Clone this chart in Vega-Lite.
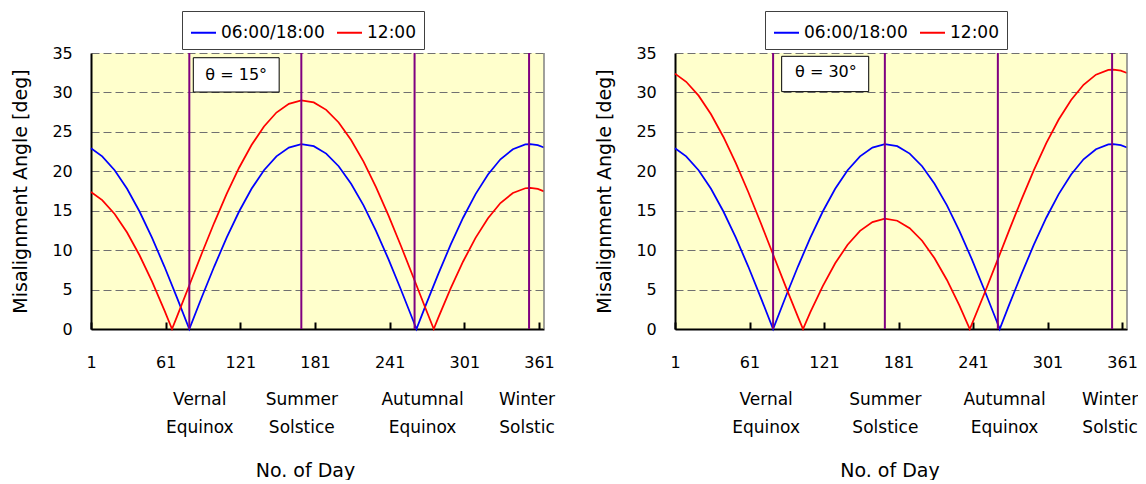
{
  "$schema": "https://vega.github.io/schema/vega-lite/v6.json",
  "padding": {"left": 11, "top": 10, "right": 0, "bottom": 0},
  "background": "white",
  "config": {"font": "DejaVu Sans", "view": {"fill": "#FFFFCC", "stroke": null}},
  "datasets": {
    "events": [
      {"day": 80, "event": "Vernal Equinox"},
      {"day": 170, "event": "Summer Solstice"},
      {"day": 261, "event": "Autumnal Equinox"},
      {"day": 353, "event": "Winter Solstic"}
    ],
    "curves": [
      {"theta":15,"time":"06:00/18:00","day":1,"angle":22.93},{"theta":15,"time":"06:00/18:00","day":10,"angle":21.90},{"theta":15,"time":"06:00/18:00","day":20,"angle":20.14},{"theta":15,"time":"06:00/18:00","day":30,"angle":17.78},{"theta":15,"time":"06:00/18:00","day":40,"angle":14.90},{"theta":15,"time":"06:00/18:00","day":50,"angle":11.58},{"theta":15,"time":"06:00/18:00","day":60,"angle":7.92},{"theta":15,"time":"06:00/18:00","day":70,"angle":4.02},{"theta":15,"time":"06:00/18:00","day":80,"angle":0},{"theta":15,"time":"06:00/18:00","day":90,"angle":4.02},{"theta":15,"time":"06:00/18:00","day":100,"angle":7.92},{"theta":15,"time":"06:00/18:00","day":110,"angle":11.58},{"theta":15,"time":"06:00/18:00","day":120,"angle":14.90},{"theta":15,"time":"06:00/18:00","day":130,"angle":17.78},{"theta":15,"time":"06:00/18:00","day":140,"angle":20.14},{"theta":15,"time":"06:00/18:00","day":150,"angle":21.90},{"theta":15,"time":"06:00/18:00","day":160,"angle":23.01},{"theta":15,"time":"06:00/18:00","day":170,"angle":23.44},{"theta":15,"time":"06:00/18:00","day":180,"angle":23.18},{"theta":15,"time":"06:00/18:00","day":190,"angle":22.24},{"theta":15,"time":"06:00/18:00","day":200,"angle":20.64},{"theta":15,"time":"06:00/18:00","day":210,"angle":18.42},{"theta":15,"time":"06:00/18:00","day":220,"angle":15.67},{"theta":15,"time":"06:00/18:00","day":230,"angle":12.45},{"theta":15,"time":"06:00/18:00","day":240,"angle":8.86},{"theta":15,"time":"06:00/18:00","day":250,"angle":5.01},{"theta":15,"time":"06:00/18:00","day":260,"angle":1.01},{"theta":15,"time":"06:00/18:00","day":262.5,"angle":0},{"theta":15,"time":"06:00/18:00","day":270,"angle":3.02},{"theta":15,"time":"06:00/18:00","day":280,"angle":6.96},{"theta":15,"time":"06:00/18:00","day":290,"angle":10.69},{"theta":15,"time":"06:00/18:00","day":300,"angle":14.11},{"theta":15,"time":"06:00/18:00","day":310,"angle":17.11},{"theta":15,"time":"06:00/18:00","day":320,"angle":19.60},{"theta":15,"time":"06:00/18:00","day":330,"angle":21.52},{"theta":15,"time":"06:00/18:00","day":340,"angle":22.80},{"theta":15,"time":"06:00/18:00","day":350,"angle":23.40},{"theta":15,"time":"06:00/18:00","day":354,"angle":23.45},{"theta":15,"time":"06:00/18:00","day":360,"angle":23.31},{"theta":15,"time":"06:00/18:00","day":365,"angle":23.01},
      {"theta":30,"time":"06:00/18:00","day":1,"angle":22.93},{"theta":30,"time":"06:00/18:00","day":10,"angle":21.90},{"theta":30,"time":"06:00/18:00","day":20,"angle":20.14},{"theta":30,"time":"06:00/18:00","day":30,"angle":17.78},{"theta":30,"time":"06:00/18:00","day":40,"angle":14.90},{"theta":30,"time":"06:00/18:00","day":50,"angle":11.58},{"theta":30,"time":"06:00/18:00","day":60,"angle":7.92},{"theta":30,"time":"06:00/18:00","day":70,"angle":4.02},{"theta":30,"time":"06:00/18:00","day":80,"angle":0},{"theta":30,"time":"06:00/18:00","day":90,"angle":4.02},{"theta":30,"time":"06:00/18:00","day":100,"angle":7.92},{"theta":30,"time":"06:00/18:00","day":110,"angle":11.58},{"theta":30,"time":"06:00/18:00","day":120,"angle":14.90},{"theta":30,"time":"06:00/18:00","day":130,"angle":17.78},{"theta":30,"time":"06:00/18:00","day":140,"angle":20.14},{"theta":30,"time":"06:00/18:00","day":150,"angle":21.90},{"theta":30,"time":"06:00/18:00","day":160,"angle":23.01},{"theta":30,"time":"06:00/18:00","day":170,"angle":23.44},{"theta":30,"time":"06:00/18:00","day":180,"angle":23.18},{"theta":30,"time":"06:00/18:00","day":190,"angle":22.24},{"theta":30,"time":"06:00/18:00","day":200,"angle":20.64},{"theta":30,"time":"06:00/18:00","day":210,"angle":18.42},{"theta":30,"time":"06:00/18:00","day":220,"angle":15.67},{"theta":30,"time":"06:00/18:00","day":230,"angle":12.45},{"theta":30,"time":"06:00/18:00","day":240,"angle":8.86},{"theta":30,"time":"06:00/18:00","day":250,"angle":5.01},{"theta":30,"time":"06:00/18:00","day":260,"angle":1.01},{"theta":30,"time":"06:00/18:00","day":262.5,"angle":0},{"theta":30,"time":"06:00/18:00","day":270,"angle":3.02},{"theta":30,"time":"06:00/18:00","day":280,"angle":6.96},{"theta":30,"time":"06:00/18:00","day":290,"angle":10.69},{"theta":30,"time":"06:00/18:00","day":300,"angle":14.11},{"theta":30,"time":"06:00/18:00","day":310,"angle":17.11},{"theta":30,"time":"06:00/18:00","day":320,"angle":19.60},{"theta":30,"time":"06:00/18:00","day":330,"angle":21.52},{"theta":30,"time":"06:00/18:00","day":340,"angle":22.80},{"theta":30,"time":"06:00/18:00","day":350,"angle":23.40},{"theta":30,"time":"06:00/18:00","day":354,"angle":23.45},{"theta":30,"time":"06:00/18:00","day":360,"angle":23.31},{"theta":30,"time":"06:00/18:00","day":365,"angle":23.01},
      {"theta":15,"time":"12:00","day":1,"angle":17.38},{"theta":15,"time":"12:00","day":10,"angle":16.35},{"theta":15,"time":"12:00","day":20,"angle":14.59},{"theta":15,"time":"12:00","day":30,"angle":12.23},{"theta":15,"time":"12:00","day":40,"angle":9.35},{"theta":15,"time":"12:00","day":50,"angle":6.03},{"theta":15,"time":"12:00","day":60,"angle":2.37},{"theta":15,"time":"12:00","day":66.1,"angle":0},{"theta":15,"time":"12:00","day":70,"angle":1.53},{"theta":15,"time":"12:00","day":80,"angle":5.55},{"theta":15,"time":"12:00","day":90,"angle":9.57},{"theta":15,"time":"12:00","day":100,"angle":13.47},{"theta":15,"time":"12:00","day":110,"angle":17.13},{"theta":15,"time":"12:00","day":120,"angle":20.45},{"theta":15,"time":"12:00","day":130,"angle":23.33},{"theta":15,"time":"12:00","day":140,"angle":25.69},{"theta":15,"time":"12:00","day":150,"angle":27.45},{"theta":15,"time":"12:00","day":160,"angle":28.56},{"theta":15,"time":"12:00","day":170,"angle":28.99},{"theta":15,"time":"12:00","day":180,"angle":28.73},{"theta":15,"time":"12:00","day":190,"angle":27.79},{"theta":15,"time":"12:00","day":200,"angle":26.19},{"theta":15,"time":"12:00","day":210,"angle":23.97},{"theta":15,"time":"12:00","day":220,"angle":21.22},{"theta":15,"time":"12:00","day":230,"angle":18.00},{"theta":15,"time":"12:00","day":240,"angle":14.41},{"theta":15,"time":"12:00","day":250,"angle":10.56},{"theta":15,"time":"12:00","day":260,"angle":6.56},{"theta":15,"time":"12:00","day":270,"angle":2.53},{"theta":15,"time":"12:00","day":276.4,"angle":0},{"theta":15,"time":"12:00","day":280,"angle":1.41},{"theta":15,"time":"12:00","day":290,"angle":5.14},{"theta":15,"time":"12:00","day":300,"angle":8.56},{"theta":15,"time":"12:00","day":310,"angle":11.56},{"theta":15,"time":"12:00","day":320,"angle":14.05},{"theta":15,"time":"12:00","day":330,"angle":15.97},{"theta":15,"time":"12:00","day":340,"angle":17.25},{"theta":15,"time":"12:00","day":350,"angle":17.85},{"theta":15,"time":"12:00","day":354,"angle":17.90},{"theta":15,"time":"12:00","day":360,"angle":17.76},{"theta":15,"time":"12:00","day":365,"angle":17.46},
      {"theta":30,"time":"12:00","day":1,"angle":32.38},{"theta":30,"time":"12:00","day":10,"angle":31.35},{"theta":30,"time":"12:00","day":20,"angle":29.59},{"theta":30,"time":"12:00","day":30,"angle":27.23},{"theta":30,"time":"12:00","day":40,"angle":24.35},{"theta":30,"time":"12:00","day":50,"angle":21.03},{"theta":30,"time":"12:00","day":60,"angle":17.37},{"theta":30,"time":"12:00","day":70,"angle":13.47},{"theta":30,"time":"12:00","day":80,"angle":9.45},{"theta":30,"time":"12:00","day":90,"angle":5.43},{"theta":30,"time":"12:00","day":100,"angle":1.53},{"theta":30,"time":"12:00","day":104.1,"angle":0},{"theta":30,"time":"12:00","day":110,"angle":2.13},{"theta":30,"time":"12:00","day":120,"angle":5.45},{"theta":30,"time":"12:00","day":130,"angle":8.33},{"theta":30,"time":"12:00","day":140,"angle":10.69},{"theta":30,"time":"12:00","day":150,"angle":12.45},{"theta":30,"time":"12:00","day":160,"angle":13.56},{"theta":30,"time":"12:00","day":170,"angle":13.99},{"theta":30,"time":"12:00","day":180,"angle":13.73},{"theta":30,"time":"12:00","day":190,"angle":12.79},{"theta":30,"time":"12:00","day":200,"angle":11.19},{"theta":30,"time":"12:00","day":210,"angle":8.97},{"theta":30,"time":"12:00","day":220,"angle":6.22},{"theta":30,"time":"12:00","day":230,"angle":3.00},{"theta":30,"time":"12:00","day":238.4,"angle":0},{"theta":30,"time":"12:00","day":240,"angle":0.59},{"theta":30,"time":"12:00","day":250,"angle":4.44},{"theta":30,"time":"12:00","day":260,"angle":8.44},{"theta":30,"time":"12:00","day":270,"angle":12.47},{"theta":30,"time":"12:00","day":280,"angle":16.41},{"theta":30,"time":"12:00","day":290,"angle":20.14},{"theta":30,"time":"12:00","day":300,"angle":23.56},{"theta":30,"time":"12:00","day":310,"angle":26.56},{"theta":30,"time":"12:00","day":320,"angle":29.05},{"theta":30,"time":"12:00","day":330,"angle":30.97},{"theta":30,"time":"12:00","day":340,"angle":32.25},{"theta":30,"time":"12:00","day":350,"angle":32.85},{"theta":30,"time":"12:00","day":354,"angle":32.90},{"theta":30,"time":"12:00","day":360,"angle":32.76},{"theta":30,"time":"12:00","day":365,"angle":32.46}
    ]
  },
  "bounds": "flush",
  "spacing": 131,
  "resolve": {"scale": {"x": "independent", "y": "independent", "color": "independent"}, "legend": {"color": "independent"}},
  "hconcat": [
    {
      "width": 453, "height": 276,
      "resolve": {"axis": {"x": "independent", "y": "independent"}},
      "layer": [
        {
          "data": {"name": "curves"},
          "transform": [{"filter": "datum.theta == 15"}],
          "mark": {"type": "line", "strokeWidth": 1.75},
          "encoding": {
            "x": {"field": "day", "type": "quantitative", "scale": {"domain": [1, 365], "nice": false, "zero": false},
              "axis": {"orient": "bottom", "values": [1, 61, 121, 181, 241, 301, 361], "title": null, "grid": false, "domainColor": "black", "domainWidth": 2, "ticks": true, "tickColor": "black", "tickWidth": 2, "tickSize": -7, "labelPadding": 32.4, "labelFlush": false, "labelOverlap": false, "labelFontSize": 16, "labelColor": "black"}},
            "y": {"field": "angle", "type": "quantitative", "scale": {"domain": [0, 35], "nice": false},
              "axis": {"values": [0, 5, 10, 15, 20, 25, 30, 35], "labelOverlap": false, "labelFlush": false, "title": "Misalignment Angle [deg]", "grid": true, "gridDash": [8, 4], "gridColor": "#707070", "gridWidth": 1, "domainColor": "black", "domainWidth": 2, "ticks": false, "tickSize": 0, "labelPadding": 18.7, "labelFontSize": 16, "labelColor": "black", "titleFontSize": 19, "titleFontWeight": "normal", "titleColor": "black", "titlePadding": 21}},
            "color": {"field": "time", "type": "nominal", "scale": {"domain": ["06:00/18:00", "12:00"], "range": ["#0000FF", "#FF0000"]},
              "legend": {"orient": "none", "legendX": 91, "legendY": -42, "direction": "horizontal", "title": null, "symbolType": "stroke", "symbolSize": 625, "symbolStrokeWidth": 2, "labelFontSize": 17, "labelColor": "black", "strokeColor": "#404040", "fillColor": "white", "padding": 8, "columnPadding": 8, "labelOffset": 4}}
          }
        },
        {
          "data": {"name": "events"},
          "mark": {"type": "rule", "color": "#800080", "strokeWidth": 2},
          "encoding": {
            "x": {"field": "day", "type": "quantitative", "scale": {"domain": [1, 365], "nice": false, "zero": false},
              "axis": {"orient": "bottom", "values": [88, 170, 267, 351], "labelExpr": "datum.value < 120 ? ['Vernal', 'Equinox'] : datum.value < 220 ? ['Summer', 'Solstice'] : datum.value < 310 ? ['Autumnal', 'Equinox'] : ['Winter', 'Solstic']", "domain": false, "ticks": false, "tickSize": 0, "grid": false, "labelPadding": 62.6, "labelFontSize": 17, "labelLineHeight": 28, "labelBaseline": "top", "labelOverlap": false, "labelFlush": false, "labelColor": "black", "title": "No. of Day", "titleFontSize": 19, "titleFontWeight": "normal", "titleColor": "black", "titleX": 214, "titleY": 147, "titleBaseline": "alphabetic"}}
          }
        },
        {
          "data": {"values": [{}]},
          "mark": {"type": "rule", "color": "#808080", "strokeWidth": 1.5},
          "encoding": {"x": {"datum": 365, "type": "quantitative", "scale": {"domain": [1, 365], "nice": false, "zero": false}, "axis": null}}
        },
        {
          "data": {"values": [{}]},
          "mark": {"type": "rect", "fill": "white", "stroke": "black", "strokeWidth": 1},
          "encoding": {
            "x": {"datum": 83.2, "type": "quantitative", "scale": {"domain": [1, 365], "nice": false, "zero": false}, "axis": null},
            "x2": {"datum": 152.2},
            "y": {"datum": 30.05, "type": "quantitative", "scale": {"domain": [0, 35], "nice": false}, "axis": null},
            "y2": {"datum": 34.4}
          }
        },
        {
          "data": {"values": [{}]},
          "mark": {"type": "text", "fontSize": 16, "baseline": "middle", "align": "center", "color": "black"},
          "encoding": {
            "x": {"datum": 117.7, "type": "quantitative", "scale": {"domain": [1, 365], "nice": false, "zero": false}, "axis": null},
            "y": {"datum": 32.17, "type": "quantitative", "scale": {"domain": [0, 35], "nice": false}, "axis": null},
            "text": {"value": "θ = 15°"}
          }
        }
      ]
    },
    {
      "width": 452, "height": 276,
      "resolve": {"axis": {"x": "independent", "y": "independent"}},
      "layer": [
        {
          "data": {"name": "curves"},
          "transform": [{"filter": "datum.theta == 30"}],
          "mark": {"type": "line", "strokeWidth": 1.75},
          "encoding": {
            "x": {"field": "day", "type": "quantitative", "scale": {"domain": [1, 365], "nice": false, "zero": false},
              "axis": {"orient": "bottom", "values": [1, 61, 121, 181, 241, 301, 361], "title": null, "grid": false, "domainColor": "black", "domainWidth": 2, "ticks": true, "tickColor": "black", "tickWidth": 2, "tickSize": -7, "labelPadding": 32.4, "labelFlush": false, "labelOverlap": false, "labelFontSize": 16, "labelColor": "black"}},
            "y": {"field": "angle", "type": "quantitative", "scale": {"domain": [0, 35], "nice": false},
              "axis": {"values": [0, 5, 10, 15, 20, 25, 30, 35], "labelOverlap": false, "labelFlush": false, "title": "Misalignment Angle [deg]", "grid": true, "gridDash": [8, 4], "gridColor": "#707070", "gridWidth": 1, "domainColor": "black", "domainWidth": 2, "ticks": false, "tickSize": 0, "labelPadding": 18.7, "labelFontSize": 16, "labelColor": "black", "titleFontSize": 19, "titleFontWeight": "normal", "titleColor": "black", "titlePadding": 21}},
            "color": {"field": "time", "type": "nominal", "scale": {"domain": ["06:00/18:00", "12:00"], "range": ["#0000FF", "#FF0000"]},
              "legend": {"orient": "none", "legendX": 90, "legendY": -42, "direction": "horizontal", "title": null, "symbolType": "stroke", "symbolSize": 625, "symbolStrokeWidth": 2, "labelFontSize": 17, "labelColor": "black", "strokeColor": "#404040", "fillColor": "white", "padding": 8, "columnPadding": 8, "labelOffset": 4}}
          }
        },
        {
          "data": {"name": "events"},
          "mark": {"type": "rule", "color": "#800080", "strokeWidth": 2},
          "encoding": {
            "x": {"field": "day", "type": "quantitative", "scale": {"domain": [1, 365], "nice": false, "zero": false},
              "axis": {"orient": "bottom", "values": [74, 170, 266, 351], "labelExpr": "datum.value < 120 ? ['Vernal', 'Equinox'] : datum.value < 220 ? ['Summer', 'Solstice'] : datum.value < 310 ? ['Autumnal', 'Equinox'] : ['Winter', 'Solstic']", "domain": false, "ticks": false, "tickSize": 0, "grid": false, "labelPadding": 62.6, "labelFontSize": 17, "labelLineHeight": 28, "labelBaseline": "top", "labelOverlap": false, "labelFlush": false, "labelColor": "black", "title": "No. of Day", "titleFontSize": 19, "titleFontWeight": "normal", "titleColor": "black", "titleX": 214.5, "titleY": 147, "titleBaseline": "alphabetic"}}
          }
        },
        {
          "data": {"values": [{}]},
          "mark": {"type": "rule", "color": "#808080", "strokeWidth": 1.5},
          "encoding": {"x": {"datum": 365, "type": "quantitative", "scale": {"domain": [1, 365], "nice": false, "zero": false}, "axis": null}}
        },
        {
          "data": {"values": [{}]},
          "mark": {"type": "rect", "fill": "white", "stroke": "black", "strokeWidth": 1},
          "encoding": {
            "x": {"datum": 86.9, "type": "quantitative", "scale": {"domain": [1, 365], "nice": false, "zero": false}, "axis": null},
            "x2": {"datum": 157},
            "y": {"datum": 30.1, "type": "quantitative", "scale": {"domain": [0, 35], "nice": false}, "axis": null},
            "y2": {"datum": 34.58}
          }
        },
        {
          "data": {"values": [{}]},
          "mark": {"type": "text", "fontSize": 16, "baseline": "middle", "align": "center", "color": "black"},
          "encoding": {
            "x": {"datum": 122.5, "type": "quantitative", "scale": {"domain": [1, 365], "nice": false, "zero": false}, "axis": null},
            "y": {"datum": 32.53, "type": "quantitative", "scale": {"domain": [0, 35], "nice": false}, "axis": null},
            "text": {"value": "θ = 30°"}
          }
        }
      ]
    }
  ]
}
